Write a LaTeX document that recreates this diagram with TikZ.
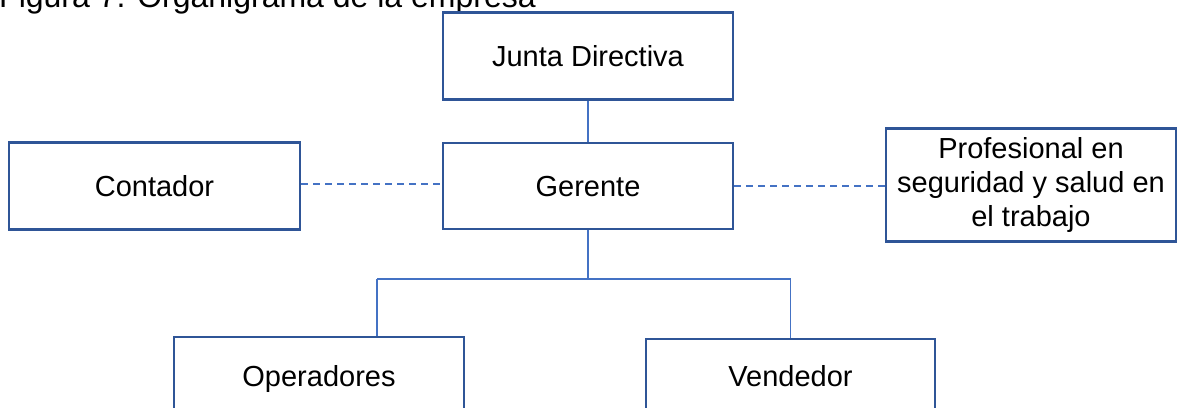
\documentclass[tikz,border=0pt]{standalone}
\usepackage{fontspec}
\setmainfont{Liberation Sans}
\definecolor{boxblue}{HTML}{2F5597}
\definecolor{lineblue}{HTML}{4472C4}
\tikzset{
  orgframe/.style={draw=boxblue, line width=2.4pt, fill=white, inner sep=0pt,
    font=\fontsize{29}{34}\selectfont, minimum width=290pt, align=center},
  orgbox/.style={orgframe, text height=20.8pt, text depth=0pt},
  conn/.style={draw=lineblue, line width=1.6pt},
  dconn/.style={draw=lineblue, line width=1.6pt, dash pattern=on 7pt off 5pt},
}
\begin{document}
\begin{tikzpicture}[x=1pt, y=-1pt]
\useasboundingbox (0,0) rectangle (1177,407);
\clip (0,0) rectangle (1177,407);
\node[anchor=base west, inner sep=0pt, font=\fontsize{32}{36}\selectfont] (title) at (-1,7) {Figura 7. Organigrama de la empresa};
\node[orgbox, minimum height=87pt] (jun) at (588,56) {Junta Directiva};
\node[orgbox, minimum height=87pt, minimum width=291pt] (con) at (154.5,186) {Contador};
\node[orgbox, minimum height=86pt] (ger) at (588,186) {Gerente};
\node[orgframe, minimum height=113pt] (pro) at (1031,185) {Profesional en\\seguridad y salud en\\el trabajo};
\node[orgbox, minimum height=78pt] (ope) at (319,376) {Operadores};
\node[orgbox, minimum height=74pt, minimum width=289pt] (ven) at (790.5,376) {Vendedor};
\coordinate (busM) at (588,279);
\coordinate (busL) at (377,279);
\draw[conn] (jun.south) -- (ger.north);
\draw[dconn] (con.east |- 0,184) -- (ger.west |- 0,184);
\draw[dconn] (ger.east |- 0,186) -- (pro.west |- 0,186);
\draw[conn] (ger.south) -- (busM);
\draw[conn] (busL) -- (busL -| ven.north) -- (ven.north);
\draw[conn] (busL) -- (busL |- ope.north);
\end{tikzpicture}
\end{document}
